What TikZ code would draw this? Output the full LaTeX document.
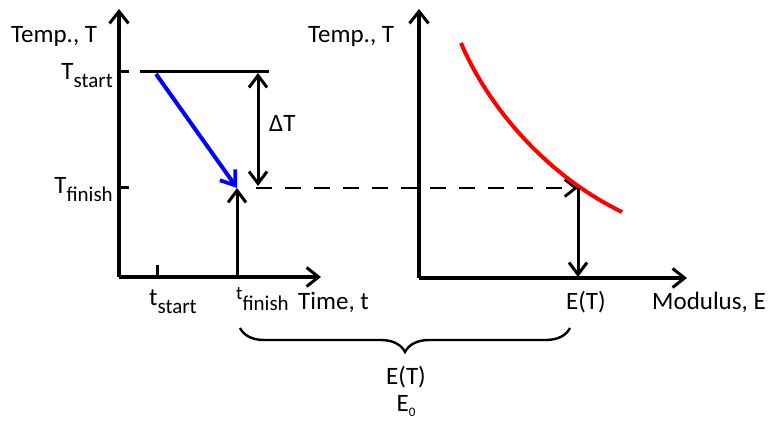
\documentclass[tikz,border=0pt]{standalone}
\usepackage{fontspec}
\setmainfont{Carlito}
\usetikzlibrary{arrows.meta,decorations.pathreplacing}
\newcommand{\lowsub}[1]{\raisebox{-8pt}{\fontsize{21}{21}\selectfont #1}}
\begin{document}
\begin{tikzpicture}[x=1pt,y=-1pt,
  lbl/.style={font=\fontsize{25}{27}\selectfont, inner sep=0pt},
  axis/.style={line width=3.2pt,-{Straight Barb[length=12pt,width=19pt,line width=3pt]}},
  tick/.style={line width=3pt},
  arr/.style={line width=3pt,-{Straight Barb[length=12pt,width=18pt,line width=3pt]}},
  darr/.style={line width=3pt,{Straight Barb[length=12pt,width=18pt,line width=3pt]}-{Straight Barb[length=12pt,width=18pt,line width=3pt]}},
  blue arr/.style={line width=4pt,blue,-{Straight Barb[length=13pt,width=19pt,line width=3.8pt]}},
]
\useasboundingbox (0,0) rectangle (771,422);
% left axes
\coordinate (lo) at (119,277);
\coordinate (ly) at (119,9);
\coordinate (lx) at (321,277);
\draw[axis] (lo) -- (ly);
\draw[axis] (lo) -- (lx);
% right axes
\coordinate (ro) at (419,278);
\coordinate (ry) at (419,9);
\coordinate (rx) at (687,278);
\draw[axis] (ro) -- (ry);
\draw[axis] (ro) -- (rx);
% ticks
\coordinate (ts1) at (119,72); \coordinate (ts2) at (129,72);
\coordinate (tf1) at (119,188); \coordinate (tf2) at (129,188);
\coordinate (xs1) at (157,277); \coordinate (xs2) at (157,265);
\draw[tick] (ts1) -- (ts2);
\draw[tick] (tf1) -- (tf2);
\draw[tick] (xs1) -- (xs2);
% start line
\coordinate (sl1) at (140,72); \coordinate (sl2) at (269,72);
\draw[tick] (sl1) -- (sl2);
% blue arrow
\coordinate (b1) at (156,74); \coordinate (pf) at (237,188);
\draw[blue arr] (b1) -- (pf);
% up arrow
\coordinate (xf) at (237,277);
\draw[arr] (xf) -- (pf);
% Delta T
\coordinate (d1) at (258,73); \coordinate (d2) at (258,186);
\draw[darr] (d1) -- (d2);
\node[lbl,anchor=base west] (dT) at (269,132) {ΔT};
% dashed line
\coordinate (ds) at (256,188); \coordinate (pe) at (578,188);
\draw[line width=2.8pt,dash pattern=on 16pt off 13pt,-{Straight Barb[length=11pt,width=17pt,line width=2.8pt]}] (ds) -- (pe);
% red curve
\coordinate (r1) at (461,43); \coordinate (r2) at (622,212);
\draw[red,line width=4pt] (r1) .. controls (485,100) and (540,172) .. (r2);
% down arrow
\coordinate (eb) at (578,277);
\draw[arr] (pe) -- (eb);
% labels
\node[lbl,anchor=base west] (tl) at (11,43) {Temp., T};
\node[lbl,anchor=base west] (tr) at (308,43) {Temp., T};
\node[lbl,anchor=base east] (tsl) at (113,80) {T\lowsub{start}};
\node[lbl,anchor=base east] (tfl) at (113,194) {T\lowsub{finish}};
\node[lbl,anchor=base west] (xsl) at (149,305) {t\lowsub{start}};
\node[lbl,anchor=base west] (xfl) at (236,299) {{\fontsize{19}{19}\selectfont t}\raisebox{-11pt}{\fontsize{21}{21}\selectfont finish}};
\node[lbl,anchor=base west] (time) at (298,309) {Time, t};
\node[lbl,anchor=base west] (etl) at (566,309) {E(T)};
\node[lbl,anchor=base west] (mod) at (652,309) {Modulus, E};
% brace
\coordinate (br1) at (240,328); \coordinate (br2) at (570,328);
\draw[line width=2.4pt,decorate,decoration={brace,mirror,amplitude=24pt}] (br1) -- (br2);
\node[lbl,anchor=base] (et) at (406,384) {E(T)};
\node[lbl,anchor=base] (e0) at (406,411) {E\raisebox{-5pt}{\fontsize{13}{13}\selectfont 0}};
\end{tikzpicture}
\end{document}
